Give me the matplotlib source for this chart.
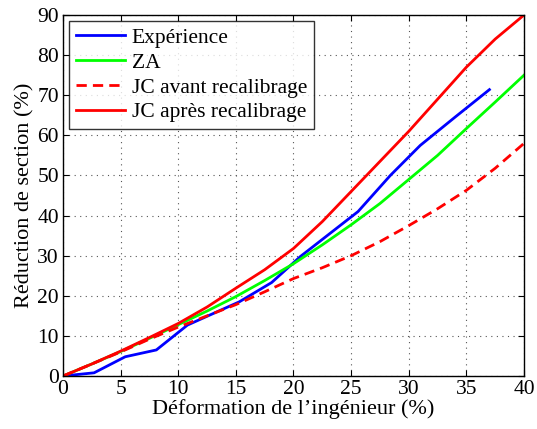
import matplotlib
matplotlib.use("Agg")
import matplotlib.pyplot as plt

plt.rcParams['font.family'] = ['Liberation Serif', 'DejaVu Serif']
plt.rcParams['mathtext.fontset'] = 'stix'

# Expérience (measured)
x_exp = [0, 2.7, 5.4, 8.1, 10.8, 15.3, 18.1, 20.6, 25.6, 28.4, 31.0, 34.0, 37.0]
y_exp = [0, 0.8, 4.8, 6.5, 12.7, 18.5, 23.3, 29.8, 41.0, 50.0, 57.5, 64.5, 71.4]

# simulated curves sampled every 2.5 %
x_sim = [0, 2.5, 5, 7.5, 10, 12.5, 15, 17.5, 20, 22.5, 25, 27.5, 30, 32.5, 35, 37.5, 40]
y_za = [0, 3, 6.1, 9.4, 12.8, 16.2, 19.8, 23.8, 28, 32.7, 37.7, 43, 49, 55, 61.7, 68.3, 75]
y_jc_avant = [0, 3, 6, 9.2, 12.2, 15, 17.8, 21, 24.3, 27, 30, 33.5, 37.5, 41.7, 46.3, 51.8, 58]
y_jc_apres = [0, 3, 6.2, 9.6, 13.1, 17.2, 21.9, 26.5, 31.8, 38.5, 46, 53.5, 61, 69, 77, 84, 90]

fig = plt.figure(figsize=(5.37, 4.29), dpi=100)
ax = fig.add_axes([0.1173, 0.1235, 0.8585, 0.8415])

ax.plot(x_exp, y_exp, color='#0000ff', lw=2, label='Expérience')
ax.plot(x_sim, y_za, color='#00ff00', lw=2, label='ZA')
ax.plot(x_sim, y_jc_avant, color='#ff0000', lw=2, ls=(0, (3.7, 2.2)), label='JC avant recalibrage')
ax.plot(x_sim, y_jc_apres, color='#ff0000', lw=2, label='JC après recalibrage')

ax.set_xlim(0, 40)
ax.set_ylim(0, 90)
ax.set_xticks(range(0, 41, 5))
ax.set_yticks(range(0, 91, 10))
ax.grid(True, color='#555555', ls=(0, (1, 4)), lw=0.8)
ax.tick_params(direction='in', top=True, right=True, labelsize=15.5, length=4, pad=3)
for s in ax.spines.values():
    s.set_linewidth(1)

ax.set_xlabel("Déformation de l’ingénieur (%)", fontsize=16, labelpad=0)
ax.set_ylabel("Réduction de section (%)", fontsize=16, labelpad=2)

leg = ax.legend(loc='upper left', fontsize=15.5, frameon=True, fancybox=False,
                edgecolor='black', handlelength=2.3, handletextpad=0.3,
                borderpad=0.3, labelspacing=0.22, borderaxespad=0.3)
leg.get_frame().set_linewidth(1)

fig.savefig('out.png', dpi=100)
